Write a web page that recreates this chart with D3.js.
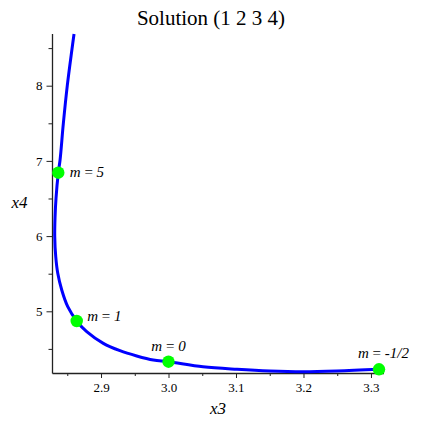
<!DOCTYPE html>
<html>
<head>
<meta charset="utf-8">
<script src="https://d3js.org/d3.v7.min.js"></script>
<style>
  body { margin: 0; background: #fff; }
  text { font-family: "Liberation Serif", "Times New Roman", serif; }
</style>
</head>
<body>
<svg id="chart" width="423" height="423"></svg>
<script>
// curve x3, x4 (top end first)
var curveX3 = [2.860, 2.857, 2.850, 2.8441, 2.8393, 2.8367, 2.8333, 2.8319, 2.8314, 2.8329, 2.8359,
    2.8418, 2.8507, 2.8640, 2.8788, 2.9034, 2.9281, 2.9529, 2.9775, 3.000, 3.0511, 3.1015, 3.1504,
    3.1993, 3.2496, 3.3119];
var curveX4 = [8.6875, 8.488, 8.000, 7.491, 7.012, 6.843, 6.503, 6.254, 6.001, 5.726, 5.505,
    5.283, 5.061, 4.871, 4.729, 4.574, 4.476, 4.406, 4.352, 4.330, 4.263, 4.229, 4.206,
    4.197, 4.206, 4.229];

// marked points
var markLabels = ["5", "1", "0", "-1/2"];
var markX3 = [2.8367, 2.8640, 3.000, 3.3119];
var markX4 = [6.843, 4.871, 4.330, 4.229];

var xMajor = [2.9, 3.0, 3.1, 3.2, 3.3];
var xMinor = [2.85, 2.95, 3.05, 3.15, 3.25];
var yMajor = [5, 6, 7, 8];
var yMinor = [4.5, 5.5, 6.5, 7.5, 8.5];

var svg = d3.select("#chart");

var x = d3.scaleLinear().domain([2.8281, 3.3193]).range([52.5, 384]);
var y = d3.scaleLinear().domain([4.1795, 8.6875]).range([373, 34]);

// title
svg.append("text")
    .attr("x", 211)
    .attr("y", 25)
    .attr("text-anchor", "middle")
    .style("font-size", "21px")
    .text("Solution (1 2 3 4)");

// axes
var xAxis = svg.append("g").attr("transform", "translate(0,373)");
xAxis.call(d3.axisBottom(x).tickValues(xMajor).tickSize(5).tickPadding(5)
    .tickFormat(d3.format(".1f")));
xAxis.append("g").call(d3.axisBottom(x).tickValues(xMinor).tickSize(3).tickFormat(""));

var yAxis = svg.append("g").attr("transform", "translate(52.5,0)");
yAxis.call(d3.axisLeft(y).tickValues(yMajor).tickSize(6).tickPadding(4)
    .tickFormat(d3.format("d")));
yAxis.append("g").call(d3.axisLeft(y).tickValues(yMinor).tickSize(4).tickFormat(""));

xAxis.attr("font-family", "Liberation Serif, serif").attr("font-size", 13);
yAxis.attr("font-family", "Liberation Serif, serif").attr("font-size", 13);

svg.selectAll(".domain").remove();
svg.selectAll(".tick line").attr("stroke", "#222");
svg.selectAll(".tick text").attr("fill", "#000");

// axis lines
svg.append("line")
    .attr("x1", 52.5).attr("x2", 384)
    .attr("y1", 373.5).attr("y2", 373.5)
    .attr("stroke", "#222").attr("stroke-width", 1.3);
svg.append("line")
    .attr("x1", 52.5).attr("x2", 52.5)
    .attr("y1", 34).attr("y2", 373.5)
    .attr("stroke", "#222").attr("stroke-width", 1.3);

// axis labels
svg.append("text")
    .attr("x", 218)
    .attr("y", 414)
    .attr("text-anchor", "middle")
    .style("font-size", "17px")
    .style("font-style", "italic")
    .text("x3");
svg.append("text")
    .attr("x", 19.5)
    .attr("y", 208)
    .attr("text-anchor", "middle")
    .style("font-size", "17px")
    .style("font-style", "italic")
    .text("x4");

// curve
var line = d3.line()
    .x(function (d, i) { return x(curveX3[i]); })
    .y(function (d, i) { return y(curveX4[i]); })
    .curve(d3.curveCatmullRom.alpha(0.5));

svg.append("path")
    .datum(curveX3)
    .attr("d", line)
    .attr("fill", "none")
    .attr("stroke", "#0000ff")
    .attr("stroke-width", 3);

// points
svg.append("g")
    .selectAll("circle")
    .data(markLabels)
    .enter().append("circle")
    .attr("cx", function (d, i) { return x(markX3[i]); })
    .attr("cy", function (d, i) { return y(markX4[i]); })
    .attr("r", 6.2)
    .attr("fill", "#00ff00");

// point labels: offsets relative to the point
var labelDx = [11.5, 10.5, 0, 4.5];
var labelDy = [4.5, 0, -10.5, -11.5];
var labelAnchor = ["start", "start", "middle", "middle"];

var lab = svg.append("g")
    .selectAll("text")
    .data(markLabels)
    .enter().append("text")
    .attr("x", function (d, i) { return x(markX3[i]) + labelDx[i]; })
    .attr("y", function (d, i) { return y(markX4[i]) + labelDy[i]; })
    .attr("text-anchor", function (d, i) { return labelAnchor[i]; })
    .style("font-size", "15px");

lab.append("tspan").style("font-style", "italic").text("m");
lab.append("tspan").text(" = ");
lab.append("tspan").style("font-style", "italic").text(function (d) { return d; });
</script>
</body>
</html>
